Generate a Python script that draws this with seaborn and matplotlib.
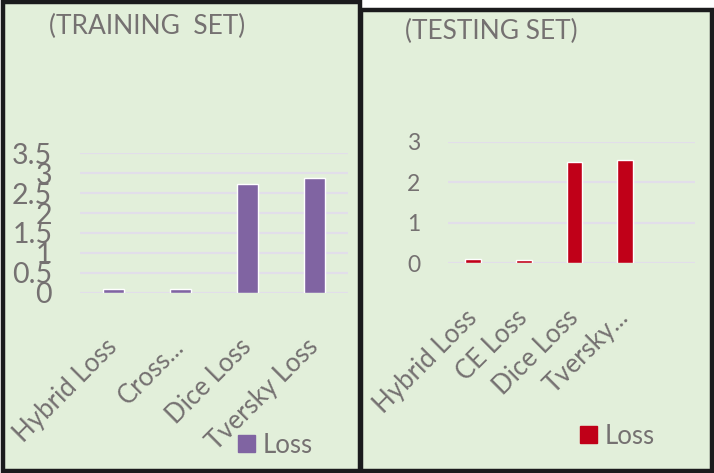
import matplotlib
matplotlib.use("Agg")
import matplotlib.pyplot as plt
import matplotlib.transforms as mtransforms
from matplotlib.patches import Rectangle
import seaborn as sns
import pandas as pd

# data
train_labels = ["Hybrid Loss", "Cross...", "Dice Loss", "Tversky Loss"]
train_loss = [0.085, 0.10, 2.73, 2.88]
test_labels = ["Hybrid Loss", "CE Loss", "Dice Loss", "Tversky..."]
test_loss = [0.11, 0.07, 2.49, 2.54]
series_name = "Loss"

W, H = 714, 473
bg = "#E2EFDA"
edge = "#1b1b1d"
txt = "#757171"
grid = "#E2DEEA"

sns.set_theme(style="white")
plt.rcParams["font.family"] = ["Lato", "DejaVu Sans"]

fig = plt.figure(figsize=(W / 100, H / 100), dpi=100)
fig.patch.set_facecolor("white")


def fr(x, y):
    return x / W, 1 - y / H


def panel(x0, y0, x1, y1):
    (a, b), (c, d) = fr(x0, y1), fr(x1, y0)
    fig.patches.append(Rectangle((a, b), c - a, d - b, transform=fig.transFigure,
                                 facecolor=bg, edgecolor=edge, lw=3.2, zorder=-5))


panel(2.5, 2.2, 359.5, 470.5)
panel(361, 10, 711.5, 470.5)

# nudge rotated x labels so their ends sit under the ticks like in Excel
shift = mtransforms.ScaledTranslation(-0.09, 0.0, fig.dpi_scale_trans)


def draw(rect_px, labels, values, color, ylim, step, ysize, xoff, title, title_xy, leg_xy):
    x0, y0, x1, y1 = rect_px
    l, b = fr(x0, y1)
    ax = fig.add_axes([l, b, (x1 - x0) / W, (y1 - y0) / H])
    ax.set_zorder(2)
    df = pd.DataFrame({"cat": labels, "val": values, "series": series_name})
    sns.barplot(data=df, x="cat", y="val", hue="series", palette=[color],
                saturation=1, dodge=False, width=0.31, ax=ax, zorder=3)
    ax.set_facecolor("none")
    ax.set_xlim(-0.5, xoff)
    ax.set_ylim(*ylim)
    ticks = [round(i * step, 2) for i in range(int(round(ylim[1] / step)) + 1)]
    ax.set_yticks(ticks)
    ax.set_yticklabels([f"{t:g}" for t in ticks])
    for t in ticks:
        ax.axhline(t, color=grid, lw=1.6, zorder=1)
    for s in ax.spines.values():
        s.set_visible(False)
    ax.set_xlabel("")
    ax.set_ylabel("")
    ax.tick_params(axis="y", length=0, pad=20, labelsize=ysize, labelcolor=txt)
    ax.tick_params(axis="x", length=0, pad=30, labelsize=18.5, labelcolor=txt)
    for lab in ax.get_xticklabels():
        lab.set_rotation(45)
        lab.set_ha("right")
        lab.set_va("top")
        lab.set_rotation_mode("anchor")
        lab.set_transform(lab.get_transform() + shift)
    ax.legend_.remove()
    handles, _ = ax.get_legend_handles_labels()
    leg = fig.legend(handles[:1], [series_name], loc="center left", bbox_to_anchor=fr(*leg_xy),
                     frameon=False, fontsize=18.5, labelcolor=txt, handlelength=0.65,
                     handleheight=0.65, handletextpad=0.3, borderpad=0)
    leg.set_zorder(3)
    for h in leg.legend_handles:
        h.set_edgecolor(color)
    fig.text(*fr(*title_xy), title, fontsize=19, color=txt, ha="left", va="center")
    return ax


draw((80, 153.3, 348, 292.7), train_labels, train_loss, "#8064A2", (0, 3.5), 0.5, 20.5,
     3.5, "(TRAINING  SET)", (49, 26), (225, 445))
draw((448, 141.7, 695, 263.3), test_labels, test_loss, "#C00018", (0, 3), 1, 16.5,
     4.38, "(TESTING SET)", (405, 31), (567, 436))

fig.savefig("out.png", dpi=100, facecolor="white")
